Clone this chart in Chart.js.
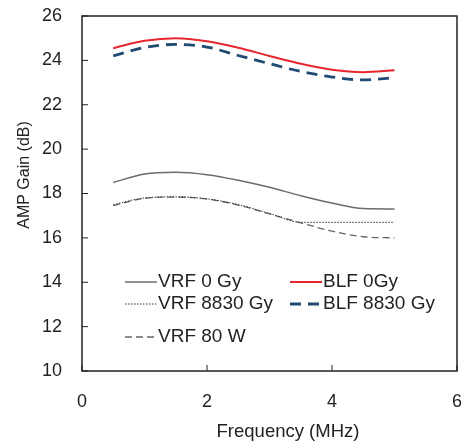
<!DOCTYPE html>
<html>
<head>
<meta charset="utf-8">
<script src="https://cdn.jsdelivr.net/npm/chart.js@4.4.1/dist/chart.umd.min.js"></script>
<style>
  html, body { margin: 0; padding: 0; background: #fff; }
  #wrap { width: 464px; height: 444px; }
</style>
</head>
<body>
<div id="wrap"><canvas id="gainChart" width="464" height="444"></canvas></div>
<script>
// frequency points (MHz)
const freq = [0.5, 1.0, 1.5, 2.0, 2.5, 3.0, 3.5, 4.0, 4.5, 5.0];

// amplifier gain (dB)
const vrf0Gy    = [18.50, 18.88, 18.96, 18.85, 18.60, 18.28, 17.90, 17.57, 17.32, 17.30];
const vrf8830Gy = [17.50, 17.80, 17.85, 17.76, 17.50, 17.10, 16.70, 16.70, 16.70, 16.70];
const vrf80W    = [17.45, 17.78, 17.84, 17.75, 17.48, 17.08, 16.68, 16.30, 16.05, 16.00];
const blf0Gy    = [24.55, 24.88, 25.00, 24.86, 24.57, 24.20, 23.85, 23.58, 23.47, 23.55];
const blf8830Gy = [24.20, 24.58, 24.72, 24.60, 24.22, 23.85, 23.50, 23.25, 23.12, 23.22];

const xTicks = [0, 2, 4, 6];
const yTicks = [10, 12, 14, 16, 18, 20, 22, 24, 26];

const xTitle = 'Frequency (MHz)';
const yTitle = 'AMP Gain (dB)';

const FONT = 'Liberation Sans, Arial, sans-serif';

function pts(ys) {
    return freq.map((f, i) => ({ x: f, y: ys[i] }));
}

// legend entries: dataset index, column, row offset from chart top
const legendLayout = [
    { ds: 0, col: 0, y: 266 },
    { ds: 1, col: 0, y: 288 },
    { ds: 2, col: 0, y: 321 },
    { ds: 3, col: 1, y: 266 },
    { ds: 4, col: 1, y: 288 }
];

// box frame, inward tick marks, axis titles and the in-plot legend
const framePlugin = {
    id: 'frame',
    afterDraw(chart) {
        const { ctx, chartArea: a, scales } = chart;
        ctx.save();
        ctx.strokeStyle = '#222';
        ctx.lineWidth = 1.5;
        ctx.strokeRect(a.left, a.top, a.right - a.left, a.bottom - a.top);

        ctx.lineWidth = 1;
        ctx.beginPath();
        yTicks.forEach(v => {
            const y = scales.y.getPixelForValue(v);
            ctx.moveTo(a.left, y);
            ctx.lineTo(a.left + 6, y);
        });
        xTicks.forEach(v => {
            const x = scales.x.getPixelForValue(v);
            ctx.moveTo(x, a.bottom);
            ctx.lineTo(x, a.bottom - 6);
        });
        ctx.stroke();

        // axis titles
        ctx.fillStyle = '#222';
        ctx.textAlign = 'center';
        ctx.textBaseline = 'middle';
        ctx.font = '18.5px ' + FONT;
        ctx.fillText(xTitle, a.left + 206, 432);
        ctx.save();
        ctx.translate(25, a.top + 159);
        ctx.rotate(-Math.PI / 2);
        ctx.font = '16px ' + FONT;
        ctx.fillText(yTitle, 0, 0);
        ctx.restore();

        // legend
        ctx.font = '19px ' + FONT;
        ctx.textAlign = 'left';
        legendLayout.forEach(item => {
            const ds = chart.data.datasets[item.ds];
            const x0 = a.left + 43 + item.col * 165;
            const y = a.top + item.y;
            ctx.save();
            ctx.strokeStyle = ds.borderColor;
            ctx.lineWidth = ds.borderWidth;
            ctx.setLineDash(ds.borderDash || []);
            ctx.beginPath();
            ctx.moveTo(x0, y);
            ctx.lineTo(x0 + 32, y);
            ctx.stroke();
            ctx.restore();
            ctx.fillText(ds.label, x0 + 33, y);
        });
        ctx.restore();
    }
};

const ctx = document.getElementById('gainChart').getContext('2d');
const gainChart = new Chart(ctx, {
    type: 'line',
    data: {
        datasets: [
            { label: 'VRF 0 Gy', data: pts(vrf0Gy), borderColor: '#6b6b6b', borderWidth: 1.5 },
            { label: 'VRF 8830 Gy', data: pts(vrf8830Gy), borderColor: '#333', borderWidth: 1, borderDash: [1.5, 1.5] },
            { label: 'VRF 80 W', data: pts(vrf80W), borderColor: '#666', borderWidth: 1.3, borderDash: [7, 4] },
            { label: 'BLF 0Gy', data: pts(blf0Gy), borderColor: '#e8262d', borderWidth: 2 },
            { label: 'BLF 8830 Gy', data: pts(blf8830Gy), borderColor: '#1f4a72', borderWidth: 2.8, borderDash: [11, 7] }
        ]
    },
    options: {
        responsive: false,
        animation: false,
        // the scale paddings set in afterFit match these so the plot box lands where wanted
        layout: { padding: { top: 16, right: 7, left: 0, bottom: 0 } },
        elements: {
            point: { radius: 0 },
            line: { cubicInterpolationMode: 'monotone', fill: false }
        },
        plugins: {
            legend: { display: false },
            tooltip: { enabled: false }
        },
        scales: {
            x: {
                type: 'linear',
                min: 0,
                max: 6,
                afterFit: scale => {
                    scale.height = 73;
                    scale.paddingLeft = 0;
                    scale.paddingRight = 7;
                },
                afterBuildTicks: scale => { scale.ticks = xTicks.map(v => ({ value: v })); },
                grid: { display: false, drawTicks: false },
                border: { display: false },
                ticks: { color: '#222', font: { family: FONT, size: 18 }, padding: 20 }
            },
            y: {
                min: 10,
                max: 26,
                afterFit: scale => {
                    scale.width = 82;
                    scale.paddingTop = 16;
                    scale.paddingBottom = 0;
                },
                afterBuildTicks: scale => { scale.ticks = yTicks.map(v => ({ value: v })); },
                grid: { display: false, drawTicks: false },
                border: { display: false },
                ticks: { color: '#222', font: { family: FONT, size: 18 }, padding: 20 }
            }
        }
    },
    plugins: [framePlugin]
});
</script>
</body>
</html>
